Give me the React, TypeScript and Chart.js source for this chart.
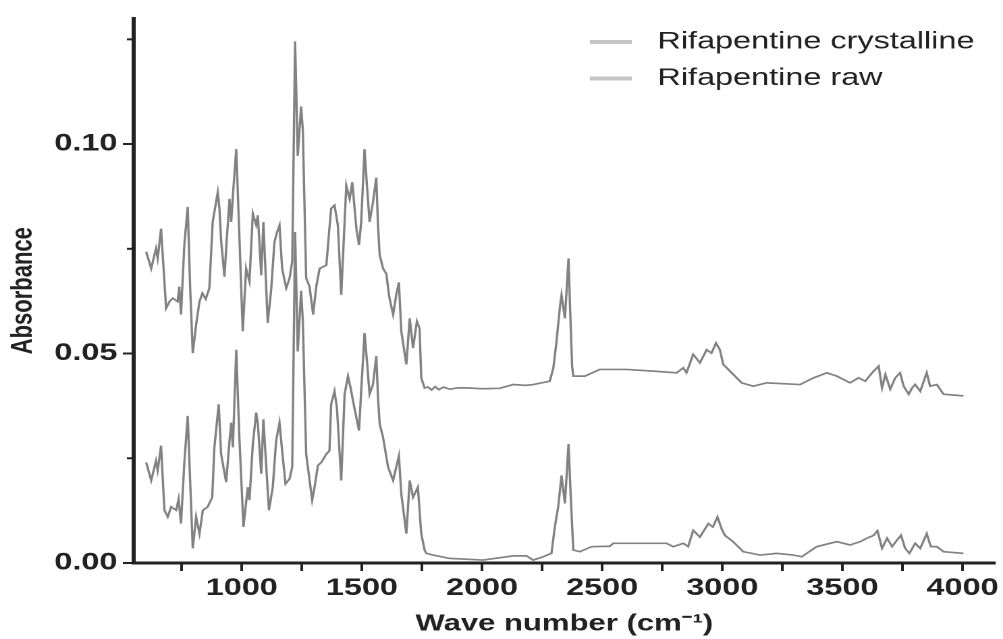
import { useEffect, useRef } from 'react';
import { Chart, registerables } from 'chart.js';

Chart.register(...registerables);

// FTIR spectra: wave number (cm-1) against absorbance
const crystallineWave = [
  602, 623, 643, 650, 664, 685, 700, 713, 733, 740, 747, 761, 775, 785, 796, 810, 824, 836, 850, 865,
  879, 900, 907, 914, 928, 935, 949, 956, 963, 977, 990, 1004, 1018, 1032, 1046, 1060, 1067, 1081, 1090, 1108,
  1122, 1136, 1147, 1157, 1168, 1185, 1199, 1210, 1222, 1233, 1247, 1254, 1268, 1282, 1297, 1310, 1324, 1352, 1362, 1372,
  1386, 1400, 1414, 1435, 1449, 1460, 1477, 1488, 1497, 1511, 1521, 1532, 1546, 1560, 1567, 1574, 1588, 1602, 1609, 1615,
  1630, 1643, 1654, 1664, 1685, 1699, 1713, 1729, 1740, 1747, 1761, 1775, 1790, 1805, 1820, 1840, 1865, 1900, 1935, 2000,
  2074, 2130, 2180, 2213, 2282, 2297, 2310, 2324, 2331, 2345, 2353, 2360, 2367, 2375, 2380, 2428, 2490, 2600, 2713, 2810,
  2838, 2851, 2879, 2907, 2935, 2955, 2974, 2990, 3004, 3039, 3081, 3129, 3185, 3324, 3380, 3435, 3477, 3532, 3567, 3595,
  3615, 3630, 3651, 3665, 3679, 3699, 3720, 3740, 3755, 3776, 3790, 3803, 3824, 3851, 3865, 3893, 3921, 3960, 4004,
];
const crystallineAbs = [
  0.0743, 0.0703, 0.0751, 0.0727, 0.0798, 0.0608, 0.0625, 0.0632, 0.0624, 0.066, 0.0593, 0.076, 0.085, 0.066, 0.0501, 0.0569, 0.0624, 0.0644, 0.063, 0.0656,
  0.0814, 0.0885, 0.0846, 0.077, 0.0683, 0.0751, 0.0869, 0.0814, 0.0877, 0.0988, 0.078, 0.0553, 0.0703, 0.0672, 0.0834, 0.0807, 0.083, 0.0687, 0.0814, 0.0573,
  0.065, 0.0766, 0.079, 0.0806, 0.0703, 0.0656, 0.068, 0.072, 0.1245, 0.0972, 0.109, 0.1035, 0.068, 0.066, 0.0593, 0.066, 0.0703, 0.0711, 0.078, 0.0846,
  0.0854, 0.0806, 0.064, 0.0901, 0.0869, 0.0909, 0.0798, 0.0759, 0.0814, 0.0988, 0.0901, 0.0814, 0.0861, 0.092, 0.0806, 0.0735, 0.0703, 0.069, 0.0656, 0.0632,
  0.0593, 0.064, 0.067, 0.0553, 0.0474, 0.0584, 0.0513, 0.0577, 0.056, 0.0442, 0.0418, 0.042, 0.0413, 0.0421, 0.0414, 0.042, 0.0415, 0.0418, 0.0418, 0.0416,
  0.0417, 0.0426, 0.0424, 0.0426, 0.0434, 0.0466, 0.0529, 0.061, 0.064, 0.0584, 0.066, 0.0727, 0.06, 0.047, 0.0446, 0.0446, 0.0462, 0.0462, 0.0458, 0.0454,
  0.0466, 0.0454, 0.0498, 0.0478, 0.0509, 0.0501, 0.0525, 0.0509, 0.0474, 0.0454, 0.043, 0.0422, 0.043, 0.0426, 0.0442, 0.0454, 0.0446, 0.043, 0.0442, 0.0434,
  0.0448, 0.0458, 0.047, 0.0418, 0.045, 0.0415, 0.0442, 0.0454, 0.0422, 0.0403, 0.0418, 0.0426, 0.041, 0.0454, 0.0422, 0.0426, 0.0403, 0.0401, 0.0399,
];

const rawWave = [
  602, 623, 643, 650, 664, 678, 692, 706, 727, 737, 747, 761, 775, 785, 796, 810, 824, 838, 858, 877,
  886, 904, 914, 935, 949, 956, 963, 977, 990, 1007, 1025, 1032, 1046, 1060, 1067, 1081, 1090, 1113, 1129, 1143,
  1157, 1168, 1182, 1199, 1210, 1222, 1233, 1247, 1254, 1268, 1293, 1303, 1317, 1331, 1352, 1365, 1372, 1386, 1396, 1414,
  1428, 1442, 1453, 1463, 1477, 1488, 1497, 1511, 1521, 1532, 1546, 1560, 1567, 1574, 1588, 1609, 1630, 1643, 1654, 1664,
  1685, 1699, 1713, 1733, 1747, 1761, 1768, 1796, 1865, 2004, 2130, 2185, 2213, 2254, 2289, 2303, 2317, 2331, 2345, 2360,
  2370, 2380, 2407, 2456, 2532, 2546, 2768, 2796, 2838, 2858, 2879, 2907, 2942, 2961, 2980, 2997, 3011, 3045, 3087, 3157,
  3226, 3296, 3331, 3393, 3449, 3477, 3532, 3574, 3601, 3630, 3646, 3665, 3686, 3707, 3728, 3744, 3761, 3779, 3803, 3824,
  3851, 3868, 3893, 3921, 4004,
];
const rawAbs = [
  0.024, 0.0197, 0.0244, 0.0221, 0.028, 0.0126, 0.011, 0.0134, 0.0126, 0.0153, 0.0094, 0.024, 0.0351, 0.0197, 0.0035, 0.011, 0.007, 0.0126, 0.0134, 0.0157,
  0.0276, 0.0379, 0.026, 0.0193, 0.0292, 0.0335, 0.0276, 0.0509, 0.03, 0.0086, 0.0181, 0.015, 0.0284, 0.0359, 0.0332, 0.0213, 0.0343, 0.0126, 0.0181, 0.0292,
  0.0335, 0.0268, 0.0189, 0.0201, 0.0229, 0.079, 0.0505, 0.065, 0.058, 0.026, 0.015, 0.0181, 0.0233, 0.024, 0.026, 0.0268, 0.0379, 0.041, 0.0371, 0.0197,
  0.0403, 0.0446, 0.0418, 0.0387, 0.0347, 0.0316, 0.041, 0.0549, 0.0482, 0.0403, 0.0426, 0.0494, 0.0395, 0.0332, 0.03, 0.0229, 0.0197, 0.0229, 0.0256, 0.0165,
  0.007, 0.0197, 0.0157, 0.0181, 0.007, 0.0031, 0.0023, 0.0019, 0.0011, 0.0007, 0.0017, 0.0017, 0.0007, 0.0015, 0.0023, 0.0086, 0.0134, 0.0209, 0.0142, 0.0284,
  0.015, 0.0031, 0.0027, 0.0039, 0.004, 0.0047, 0.0047, 0.0039, 0.0047, 0.0039, 0.0078, 0.0062, 0.0094, 0.0086, 0.011, 0.0082, 0.0066, 0.0051, 0.0027, 0.0019,
  0.0023, 0.0019, 0.0015, 0.0039, 0.0047, 0.0051, 0.0043, 0.0051, 0.0059, 0.0066, 0.0077, 0.0035, 0.0059, 0.0039, 0.0055, 0.0066, 0.0035, 0.0023, 0.0047, 0.0035,
  0.007, 0.0039, 0.0039, 0.0027, 0.0023,
];

const seriesLabels = ['Rifapentine crystalline', 'Rifapentine raw'];

// axis ranges and tick settings
const xMin = 550;
const xMax = 4135;
const xStep = 250;
const xLabelEvery = 500;
const yMin = 0;
const yMax = 0.13;
const yStep = 0.025;
const yLabelEvery = 0.05;

// the figure is laid out on a narrower canvas and widened horizontally
const STRETCH = 1.35;
const W = Math.round(1003 / STRETCH);
const H = 639;

const FONT = '"Liberation Sans", Arial, Helvetica, sans-serif';
const INK = '#222222';
const LINE = '#828282';
const SWATCH = '#c4c4c4';

const toPoints = (xs: number[], ys: number[]) => xs.map((x, i) => ({ x, y: ys[i] }));

const isMajorY = (v: number) => {
  const k = Math.round(v / yStep);
  return k % Math.round(yLabelEvery / yStep) === 0;
};

// short minor ticks on the absorbance axis
const minorTickPlugin = {
  id: 'minorYTicks',
  afterDraw(chart: Chart) {
    const scale: any = chart.scales.y;
    if (!scale) return;
    const { ctx } = chart;
    ctx.save();
    ctx.strokeStyle = INK;
    ctx.lineWidth = 2;
    scale.ticks.forEach((t: any) => {
      if (isMajorY(t.value)) return;
      const y = scale.getPixelForValue(t.value);
      ctx.beginPath();
      ctx.moveTo(scale.right - 5, y);
      ctx.lineTo(scale.right, y);
      ctx.stroke();
    });
    ctx.restore();
  },
};

const legendPlugin = {
  id: 'spectraLegend',
  afterDraw(chart: Chart) {
    const { ctx } = chart;
    ctx.save();
    chart.data.datasets.forEach((ds, i) => {
      const y = 42 + i * 36.5;
      ctx.strokeStyle = SWATCH;
      ctx.lineWidth = 4;
      ctx.beginPath();
      ctx.moveTo(437, y);
      ctx.lineTo(468, y);
      ctx.stroke();
      ctx.fillStyle = INK;
      ctx.font = `24px ${FONT}`;
      ctx.textAlign = 'left';
      ctx.textBaseline = 'middle';
      ctx.fillText(String(ds.label), 487, y);
    });
    ctx.restore();
  },
};

export default function App() {
  const canvasRef = useRef<HTMLCanvasElement>(null);

  useEffect(() => {
    if (!canvasRef.current) return;
    const chart = new Chart(canvasRef.current, {
      type: 'line',
      data: {
        datasets: [
          {
            label: seriesLabels[0],
            data: toPoints(crystallineWave, crystallineAbs),
            borderColor: LINE,
            borderWidth: 1.7,
            pointRadius: 0,
            tension: 0,
            fill: false,
          },
          {
            label: seriesLabels[1],
            data: toPoints(rawWave, rawAbs),
            borderColor: LINE,
            borderWidth: 1.7,
            pointRadius: 0,
            tension: 0,
            fill: false,
          },
        ],
      },
      options: {
        animation: false,
        responsive: false,
        devicePixelRatio: 2,
        layout: { padding: { top: 15, right: 6, left: 0, bottom: 0 } },
        plugins: {
          legend: { display: false },
          tooltip: { enabled: false },
        },
        scales: {
          x: {
            type: 'linear',
            min: xMin,
            max: xMax,
            border: { display: true, color: INK, width: 3 },
            grid: {
              drawOnChartArea: false,
              drawTicks: true,
              tickLength: 8,
              tickColor: INK,
              tickWidth: 2,
            },
            ticks: {
              stepSize: xStep,
              includeBounds: false,
              autoSkip: false,
              maxRotation: 0,
              padding: 3,
              color: INK,
              font: { family: FONT, size: 24, weight: 'bold' },
              callback: (v: number | string) => (Number(v) % xLabelEvery === 0 ? String(v) : ''),
            },
            title: {
              display: true,
              text: 'Wave number (cm⁻¹)',
              color: INK,
              font: { family: FONT, size: 23, weight: 'bold' },
              padding: { top: 0, bottom: 1 },
            },
            afterFit: (scale: any) => {
              scale.height = 76;
            },
          },
          y: {
            type: 'linear',
            min: yMin,
            max: yMax,
            border: { display: true, color: INK, width: 3 },
            grid: {
              drawOnChartArea: false,
              drawTicks: true,
              tickLength: 8,
              tickColor: (c: any) => (c.tick && isMajorY(c.tick.value) ? INK : 'rgba(0,0,0,0)'),
              tickWidth: 2,
            },
            ticks: {
              stepSize: yStep,
              includeBounds: false,
              autoSkip: false,
              padding: 4,
              color: INK,
              font: { family: FONT, size: 24, weight: 'bold' },
              callback: (v: number | string) => (isMajorY(Number(v)) ? Number(v).toFixed(2) : ''),
            },
            title: {
              display: true,
              text: 'Absorbance',
              color: INK,
              font: { family: FONT, size: 22, weight: 'bold' },
              padding: { top: 4, bottom: 0 },
            },
            afterFit: (scale: any) => {
              scale.width = 99;
            },
          },
        },
      },
      plugins: [minorTickPlugin, legendPlugin],
    } as any);
    return () => chart.destroy();
  }, []);

  return (
    <div
      style={{
        position: 'fixed',
        left: 0,
        top: 0,
        width: 1003,
        height: 639,
        overflow: 'hidden',
        background: '#ffffff',
      }}
    >
      <div
        style={{
          width: W,
          height: H,
          transform: `scaleX(${STRETCH})`,
          transformOrigin: '0 0',
        }}
      >
        <canvas ref={canvasRef} width={W} height={H} style={{ display: 'block', width: W, height: H }} />
      </div>
    </div>
  );
}
